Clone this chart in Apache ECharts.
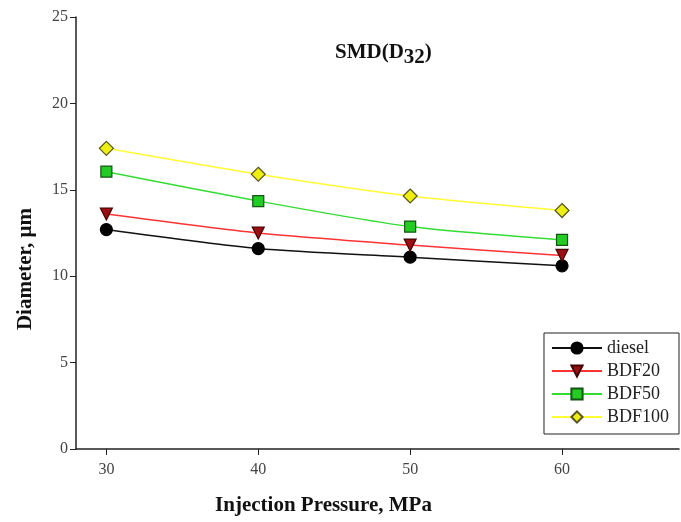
<!DOCTYPE html>
<html>
<head>
<meta charset="utf-8">
<script src="https://cdn.jsdelivr.net/npm/echarts@6/dist/echarts.min.js"></script>
<style>
  html, body { margin: 0; padding: 0; background: #fff; }
  #chart { width: 681px; height: 522px; }
</style>
</head>
<body>
<div id="chart"></div>
<script>
// data
const pressure = [30, 40, 50, 60]
const diesel = [12.7, 11.6, 11.1, 10.6]
const bdf20 = [13.6, 12.5, 11.8, 11.2]
const bdf50 = [16.05, 14.35, 12.87, 12.1]
const bdf100 = [17.4, 15.9, 14.64, 13.8]
const yTicks = [0, 5, 10, 15, 20, 25]

const serif = '"Liberation Serif", "DejaVu Serif", serif'

function pairs (ys) {
  return pressure.map((x, i) => [x, ys[i]])
}

function line (name, ys, lineColor, fill, border, symbol, size, rotate) {
  return {
    name: name,
    type: 'line',
    data: pairs(ys),
    smooth: 0.25,
    symbol: symbol,
    symbolSize: size,
    symbolRotate: rotate || 0,
    lineStyle: { color: lineColor, width: 1.5 },
    itemStyle: { color: fill, borderColor: border, borderWidth: 1.2, opacity: 1 },
    z: 3
  }
}

const chart = echarts.init(document.getElementById('chart'))
chart.setOption({
  animation: false,
  backgroundColor: '#fff',
  title: {
    text: '{a|SMD(D}{s|32}{a|)}',
    left: 330,
    top: 32,
    textStyle: {
      rich: {
        a: { fontFamily: serif, fontWeight: 'bold', fontSize: 21, color: '#111' },
        s: { fontFamily: serif, fontWeight: 'bold', fontSize: 21, color: '#111', padding: [10, 0, 0, 0] }
      }
    }
  },
  legend: {
    right: 2,
    top: 333,
    orient: 'vertical',
    itemWidth: 50,
    itemHeight: 14,
    itemGap: 5,
    padding: [6, 10, 8, 7],
    borderColor: '#222',
    borderWidth: 1,
    backgroundColor: '#fff',
    textStyle: { fontFamily: serif, fontSize: 18, color: '#222' },
    data: ['diesel', 'BDF20', 'BDF50', 'BDF100']
  },
  grid: { left: 76, right: 2, top: 17, bottom: 73, containLabel: false },
  xAxis: {
    type: 'value',
    min: 28,
    max: 67.7,
    name: 'Injection Pressure, MPa',
    nameLocation: 'middle',
    nameGap: 46,
    nameTextStyle: { fontFamily: serif, fontWeight: 'bold', fontSize: 21, color: '#111', padding: [0, 108, 0, 0] },
    axisLine: { show: true, lineStyle: { color: '#222', width: 1.5 } },
    axisTick: { show: true, customValues: pressure, length: 6, lineStyle: { color: '#222' } },
    axisLabel: { customValues: pressure, fontFamily: serif, fontSize: 16, color: '#444', margin: 13 },
    splitLine: { show: false }
  },
  yAxis: {
    type: 'value',
    min: 0,
    max: 25,
    interval: 5,
    name: 'Diameter, µm',
    nameLocation: 'middle',
    nameGap: 40,
    nameRotate: 90,
    nameTextStyle: { fontFamily: serif, fontWeight: 'bold', fontSize: 21, color: '#111', padding: [0, 72, 0, 0] },
    axisLine: { show: true, lineStyle: { color: '#222', width: 1.5 } },
    axisTick: { show: true, customValues: yTicks, length: 6, lineStyle: { color: '#222' } },
    axisLabel: { customValues: yTicks, fontFamily: serif, fontSize: 16, color: '#444', margin: 8 },
    splitLine: { show: false }
  },
  series: [
    line('diesel', diesel, '#111', '#000', '#000', 'circle', 12),
    line('BDF20', bdf20, '#ff3333', '#9a1010', '#400', 'triangle', 12, 180),
    line('BDF50', bdf50, '#33dd33', '#22cc22', '#115511', 'rect', 11),
    line('BDF100', bdf100, '#ffff33', '#eeee11', '#555522', 'diamond', 14)
  ]
})
</script>
</body>
</html>
